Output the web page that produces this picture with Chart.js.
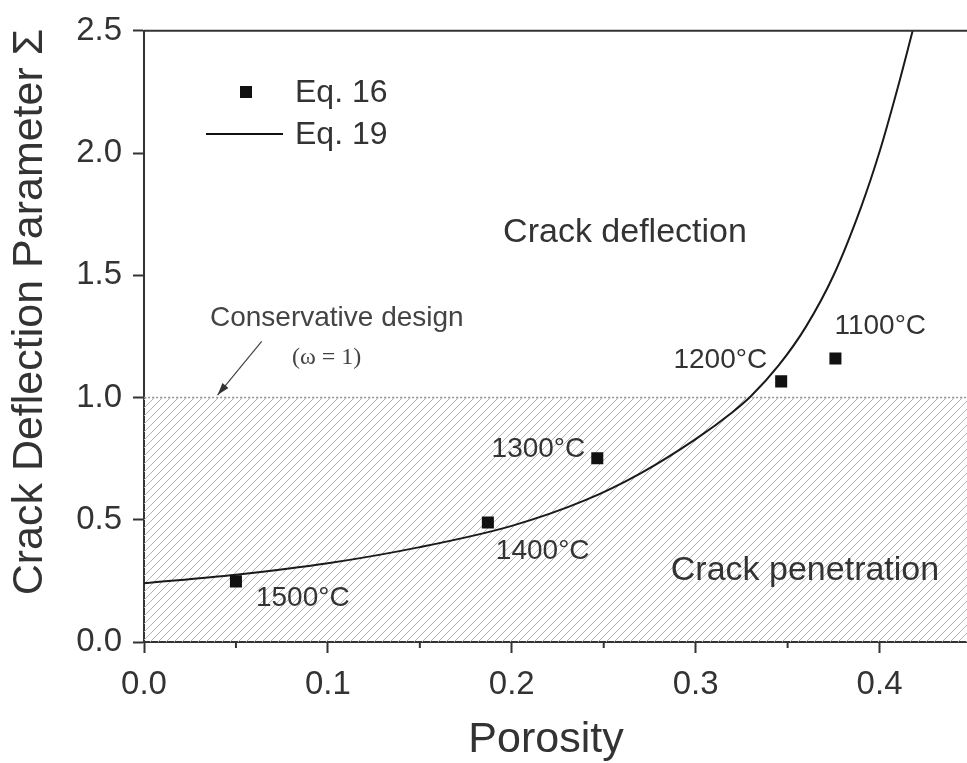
<!DOCTYPE html>
<html>
<head>
<meta charset="utf-8">
<script src="https://cdn.jsdelivr.net/npm/chart.js@4/dist/chart.umd.min.js"></script>
<style>
html, body { margin: 0; padding: 0; overflow: hidden; background: #fff; }
#wrap { width: 980px; height: 763px; }
</style>
</head>
<body>
<div id="wrap"><canvas id="sigmaChart"></canvas></div>
<script>
// Eq. 16 points (porosity, sigma) and their sintering temperatures
const eq16Porosity = [0.050, 0.187, 0.2465, 0.3465, 0.376]
const eq16Sigma = [0.248, 0.489, 0.752, 1.066, 1.160]
const eq16Labels = ['1500°C', '1400°C', '1300°C', '1200°C', '1100°C']

// Eq. 19 curve
const eq19Porosity = [0.00, 0.05, 0.10, 0.15, 0.20, 0.24, 0.27, 0.30, 0.32, 0.33, 0.345, 0.36, 0.375, 0.39, 0.40, 0.41, 0.418]
const eq19Sigma = [0.240, 0.275, 0.322, 0.388, 0.475, 0.580, 0.690, 0.830, 0.940, 1.005, 1.130, 1.290, 1.500, 1.780, 2.005, 2.270, 2.500]

// conservative design limit (omega = 1)
const limitPorosity = [0.0, 0.45]
const limitSigma = [1.0, 1.0]

const xTicks = [0.0, 0.1, 0.2, 0.3, 0.4]
const yTicks = [0.0, 0.5, 1.0, 1.5, 2.0, 2.5]

const sansFont = '"Liberation Sans", Arial, Helvetica, sans-serif'
const axisCol = '#333'
const textCol = '#333'

function hatchPattern() {
    const c = document.createElement('canvas')
    c.width = 8; c.height = 8
    const g = c.getContext('2d')
    g.strokeStyle = '#b4b4b4'
    g.lineWidth = 1
    g.beginPath()
    g.moveTo(0, 8); g.lineTo(8, 0)
    g.moveTo(-2, 2); g.lineTo(2, -2)
    g.moveTo(6, 10); g.lineTo(10, 6)
    g.stroke()
    return g.createPattern(c, 'repeat')
}

const decorations = {
    id: 'decorations',
    afterDraw(chart) {
        const ctx = chart.ctx
        const xs = chart.scales.x, ys = chart.scales.y
        const area = chart.chartArea
        ctx.save()

        // top frame line
        ctx.strokeStyle = axisCol
        ctx.lineWidth = 2
        ctx.beginPath()
        ctx.moveTo(area.left, area.top)
        ctx.lineTo(area.right, area.top)
        ctx.stroke()

        // minor ticks on x
        ctx.beginPath()
        for (let i = 0; i < xTicks.length; i++) {
            const px = xs.getPixelForValue(xTicks[i] + 0.05)
            ctx.moveTo(px, area.bottom)
            ctx.lineTo(px, area.bottom + 6)
        }
        ctx.stroke()

        // axis titles
        ctx.fillStyle = textCol
        ctx.font = '43px ' + sansFont
        ctx.textAlign = 'center'
        ctx.textBaseline = 'middle'
        ctx.fillText('Porosity', 546, 740)
        ctx.save()
        ctx.translate(30, 312)
        ctx.rotate(-Math.PI / 2)
        ctx.fillText('Crack Deflection Parameter \u03A3', 0, 0)
        ctx.restore()

        // legend
        ctx.fillStyle = '#111'
        ctx.fillRect(240, 86, 12, 12)
        ctx.strokeStyle = '#111'
        ctx.lineWidth = 2
        ctx.beginPath()
        ctx.moveTo(206, 134)
        ctx.lineTo(283, 134)
        ctx.stroke()
        ctx.fillStyle = textCol
        ctx.font = '32px ' + sansFont
        ctx.textAlign = 'left'
        ctx.fillText('Eq. 16', 295, 93)
        ctx.fillText('Eq. 19', 295, 135)

        // region labels
        ctx.font = '34px ' + sansFont
        ctx.textAlign = 'center'
        ctx.fillText('Crack deflection', 625, 233)
        ctx.fillText('Crack penetration', 805, 571)

        // temperature labels next to the points
        const offsets = [[20, 17, 'left'], [8, 29, 'left'], [-12, -9, 'right'], [-14, -21, 'right'], [-1, -32, 'left']]
        ctx.font = '28px ' + sansFont
        for (let i = 0; i < eq16Labels.length; i++) {
            const px = xs.getPixelForValue(eq16Porosity[i])
            const py = ys.getPixelForValue(eq16Sigma[i])
            ctx.textAlign = offsets[i][2]
            ctx.fillText(eq16Labels[i], px + offsets[i][0], py + offsets[i][1])
        }

        // conservative design note and arrow
        ctx.fillStyle = '#444'
        ctx.textAlign = 'left'
        ctx.font = '28px ' + sansFont
        ctx.fillText('Conservative design', 210, 318)
        ctx.font = '24px "Liberation Serif", "Times New Roman", serif'
        ctx.fillText('(\u03C9 = 1)', 292, 358)

        const ax0 = xs.getPixelForValue(0.064), ay0 = ys.getPixelForValue(1.23)
        const ax1 = xs.getPixelForValue(0.040), ay1 = ys.getPixelForValue(1.01)
        ctx.strokeStyle = '#444'
        ctx.lineWidth = 1.2
        ctx.beginPath()
        ctx.moveTo(ax0, ay0)
        ctx.lineTo(ax1, ay1)
        ctx.stroke()
        const ang = Math.atan2(ay1 - ay0, ax1 - ax0)
        ctx.fillStyle = '#333'
        ctx.beginPath()
        ctx.moveTo(ax1, ay1)
        ctx.lineTo(ax1 - 13 * Math.cos(ang - 0.3), ay1 - 13 * Math.sin(ang - 0.3))
        ctx.lineTo(ax1 - 13 * Math.cos(ang + 0.3), ay1 - 13 * Math.sin(ang + 0.3))
        ctx.closePath()
        ctx.fill()

        ctx.restore()
    }
}

const ctx_sigma = document.getElementById('sigmaChart').getContext('2d')
const sigmaChart = new Chart(ctx_sigma, {
    type: 'scatter',
    data: {
        datasets: [
            {
                label: 'Eq. 16',
                data: eq16Porosity.map((p, i) => ({ x: p, y: eq16Sigma[i] })),
                pointStyle: 'rect',
                pointRadius: 8.5,
                backgroundColor: '#111',
                borderColor: '#111',
                borderWidth: 0,
                order: 0
            },
            {
                label: 'Eq. 19',
                type: 'line',
                data: eq19Porosity.map((p, i) => ({ x: p, y: eq19Sigma[i] })),
                borderColor: '#1a1a1a',
                borderWidth: 2,
                pointRadius: 0,
                cubicInterpolationMode: 'monotone',
                fill: false,
                order: 1
            },
            {
                label: 'limit',
                type: 'line',
                data: limitPorosity.map((p, i) => ({ x: p, y: limitSigma[i] })),
                borderColor: '#9a9a9a',
                borderWidth: 1.5,
                borderDash: [2, 2],
                pointRadius: 0,
                fill: 'origin',
                backgroundColor: hatchPattern(),
                order: 2
            }
        ]
    },
    options: {
        responsive: true,
        maintainAspectRatio: false,
        animation: false,
        layout: { padding: { top: 24, right: 5, left: 0, bottom: 0 } },
        plugins: {
            legend: { display: false },
            tooltip: { enabled: false }
        },
        scales: {
            x: {
                type: 'linear',
                min: 0,
                max: 0.45,
                afterFit: (s) => { s.height = 121 },
                afterBuildTicks: (s) => { s.ticks = xTicks.map(v => ({ value: v })) },
                ticks: {
                    color: '#333',
                    font: { family: sansFont, size: 33 },
                    padding: 12,
                    callback: (v) => v.toFixed(1)
                },
                grid: { drawOnChartArea: false, drawTicks: true, tickLength: 11, tickColor: axisCol, tickWidth: 2 },
                border: { display: true, color: axisCol, width: 2 }
            },
            y: {
                type: 'linear',
                min: 0,
                max: 2.5,
                afterFit: (s) => { s.width = 144 },
                afterBuildTicks: (s) => { s.ticks = yTicks.map(v => ({ value: v })) },
                ticks: {
                    color: '#333',
                    font: { family: sansFont, size: 33 },
                    padding: 11,
                    callback: (v) => v.toFixed(1)
                },
                grid: { drawOnChartArea: false, drawTicks: true, tickLength: 11, tickColor: axisCol, tickWidth: 2 },
                border: { display: true, color: axisCol, width: 2 }
            }
        }
    },
    plugins: [decorations]
})
</script>
</body>
</html>
